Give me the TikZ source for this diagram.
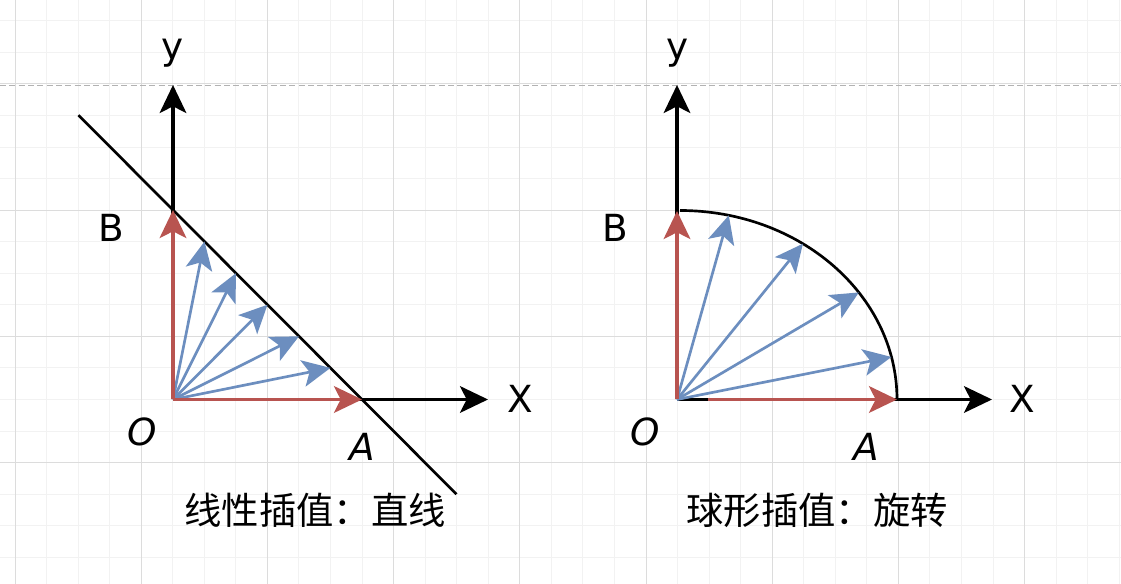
\documentclass[tikz,border=0pt]{standalone}
\usepackage{fontspec}
\usetikzlibrary{calc,arrows.meta}
\newfontfamily\lblfont{DejaVu Sans}
\newfontfamily\cjkfont{Noto Sans CJK SC}
\definecolor{vecred}{HTML}{B85450}
\definecolor{vecblue}{HTML}{6C8EBF}
\definecolor{gridmajor}{HTML}{DCDCDC}
\definecolor{gridminor}{HTML}{F2F2F2}
\tikzset{
	head/.style={-{Stealth[length=21pt, width=20pt, inset=5pt]}},
	axis/.style={head, line width=2.3pt, color=black},
	redvec/.style={head, line width=2.5pt, color=vecred},
	bluevec/.style={head, line width=2pt, color=vecblue},
	lbl/.style={font=\lblfont\fontsize{28}{32}\selectfont},
	caption/.style={font=\cjkfont\fontsize{28}{32}\selectfont},
}

\begin{document}
\begin{tikzpicture}[x=0.75pt, y=0.75pt]
		%%%%% START %%%%%
		
		\useasboundingbox (0, 0) rectangle (1121, 584);
		\fill[white] (0, 0) rectangle (1121, 584);
		
		% grid
		\foreach \i in {0,...,35}
			\draw[gridminor, line width=0.75pt] (15+31.55*\i, 0) -- (15+31.55*\i, 584);
		\foreach \j in {-2,...,16}
			\draw[gridminor, line width=0.75pt] (0, 500-31.55*\j) -- (1121, 500-31.55*\j);
		\foreach \i in {0,...,8}
			\draw[gridmajor, line width=0.75pt] (15+126.2*\i, 0) -- (15+126.2*\i, 584);
		\foreach \j in {0,...,3}
			\draw[gridmajor, line width=0.75pt] (0, 500-126.2*\j) -- (1121, 500-126.2*\j);
		\draw[black!30, line width=0.75pt, dash pattern=on 4.5pt off 2.5pt] (0, 498) -- (1121, 498);
		
		%%%%% LINEAR %%%%%
		
		\coordinate (O1) at (173, 184.5);
		\coordinate (B1) at (173, 374);
		\coordinate (A1) at (362, 184.5);
		\coordinate (Y1) at (173, 499);
		\coordinate (X1) at (488, 184.5);
		
		\draw[axis] (O1) -- (Y1);
		\draw[axis] (O1) -- (X1);
		\draw[line width=2pt] ($(B1)!-0.5!(A1)$) -- ($(B1)!1.5!(A1)$);
		
		\foreach \k in {1,...,5}
			\draw[bluevec] (O1) -- ($(B1)!\k/6!(A1)$);
		\draw[redvec] (O1) -- (B1);
		\draw[redvec] (O1) -- (A1);
		
		\node[lbl] (ylab1) at (173, 531) {y};
		\node[lbl] (blab1) at (111, 356.5) {B};
		\node[lbl] (olab1) at (142, 152) {\itshape O};
		\node[lbl] (alab1) at (362, 137) {\itshape A};
		\node[lbl] (xlab1) at (520, 185) {X};
		\node[caption] (cap1) at (315, 74) {线性插值：直线};
		
		%%%%% SPHERICAL %%%%%
		
		\coordinate (O2) at (677, 184.5);
		\coordinate (B2) at (677, 373);
		\coordinate (A2) at (897, 184.5);
		\coordinate (Y2) at (677, 499);
		\coordinate (X2) at (992, 184.5);
		\coordinate (C2) at (680, 184.5);
		\coordinate (R2) at (708, 184.5);
		
		\draw[axis] (O2) -- (Y2);
		\draw[axis] (O2) -- (X2);
		\draw[line width=2pt] ($(C2)+(0, 189)$) arc[start angle=90, end angle=0, x radius=217, y radius=189];
		
		\foreach \a in {13, 34.5, 55.5, 77}
			\draw[bluevec] (O2) -- ($(C2)+(\a:217 and 189)$);
		\draw[redvec] (O2) -- (B2);
		\draw[redvec] (R2) -- (A2);
		
		\node[lbl] (ylab2) at (678, 531) {y};
		\node[lbl] (blab2) at (615, 356.5) {B};
		\node[lbl] (olab2) at (645, 152) {\itshape O};
		\node[lbl] (alab2) at (866, 137) {\itshape A};
		\node[lbl] (xlab2) at (1022, 185) {X};
		\node[caption] (cap2) at (817, 74) {球形插值：旋转};
		
		%%%%% END %%%%%
	\end{tikzpicture}
\end{document}
